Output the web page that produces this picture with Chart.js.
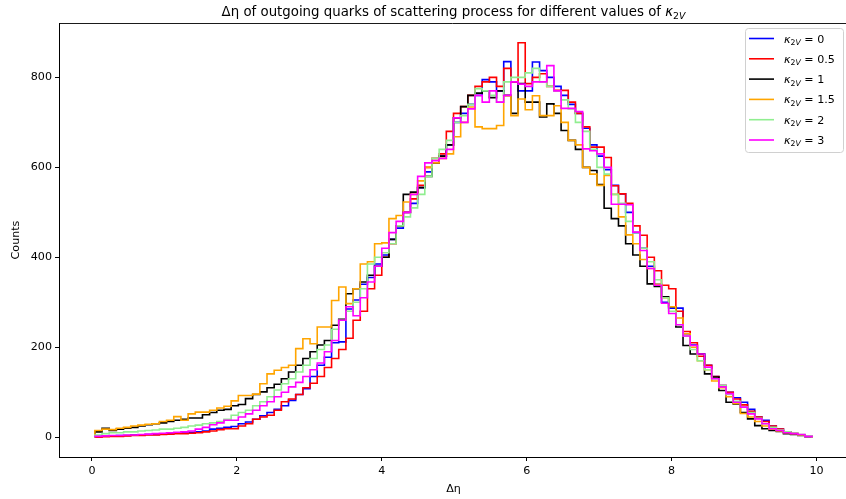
<!DOCTYPE html>
<html>
<head>
<meta charset="utf-8">
<script src="https://cdn.jsdelivr.net/npm/chart.js@4.4.0/dist/chart.umd.min.js"></script>
<style>
  html, body { margin: 0; padding: 0; background: #fff; }
  #wrap { width: 846px; height: 499px; }
</style>
</head>
<body>
<div id="wrap"><canvas id="chart" width="846" height="499"></canvas></div>
<script>
// histogram: 100 bins between the first and last edge
const binStart = 0.04;
const binEnd = 9.94;
const binCount = 100;

const kappaValues = ['0', '0.5', '1', '1.5', '2', '3'];
const seriesColors = ['#0000ff', '#ff0000', '#000000', '#ffa500', '#90ee90', '#ff00ff'];

const xTicks = [0, 2, 4, 6, 8, 10];
const yTicks = [0, 200, 400, 600, 800];

const countsK0 = [
  2,3,3,4,4,5,5,6,6,7,
  8,9,10,11,12,14,18,20,22,24,
  30,34,40,48,55,62,70,82,95,108,
  135,160,178,210,212,285,305,340,355,385,
  405,440,465,500,520,555,590,610,625,650,
  700,720,740,760,795,790,770,835,790,770,
  770,834,815,800,780,760,740,720,687,650,
  625,595,560,541,500,455,420,380,340,300,
  287,287,230,205,185,160,135,115,100,88,
  78,62,45,38,25,18,12,8,5,2
];
const countsK05 = [
  0,1,2,2,3,4,4,5,5,6,
  7,8,8,9,10,12,14,17,19,19,
  25,30,40,45,49,60,79,85,95,110,
  120,135,155,175,195,220,260,280,330,360,
  400,430,470,500,530,560,600,620,630,680,
  720,735,760,780,790,800,780,820,790,877,
  786,800,808,780,771,771,745,720,690,645,
  645,622,559,541,520,470,449,400,370,338,
  330,280,235,210,180,160,135,115,100,85,
  72,58,45,35,25,18,12,8,5,2
];
const countsK1 = [
  12,20,15,18,20,22,25,28,30,32,
  35,38,40,43,43,50,55,60,62,70,
  73,86,95,101,110,118,130,145,160,175,
  190,205,215,249,262,319,330,345,360,380,
  400,440,470,540,545,555,580,610,625,650,
  710,735,760,765,770,755,770,760,720,786,
  745,745,712,741,720,682,660,640,600,593,
  562,509,486,470,430,405,380,341,335,312,
  290,245,204,185,185,141,134,104,78,74,
  55,41,26,19,15,13,8,6,4,2
];
const countsK15 = [
  15,18,17,20,22,25,27,29,30,35,
  38,46,38,52,56,56,60,65,69,81,
  93,93,96,119,141,149,155,160,197,219,
  208,245,245,304,334,297,330,385,390,430,
  432,486,493,523,540,570,600,610,620,630,
  668,700,734,690,686,686,693,759,715,752,
  728,759,715,715,737,700,660,650,600,585,
  560,582,540,490,450,430,395,375,340,310,
  290,265,230,200,170,150,125,110,90,75,
  53,45,35,25,18,14,10,8,5,3
];
const countsK2 = [
  5,8,10,10,12,12,14,15,16,18,
  18,20,22,25,27,30,32,35,40,49,
  55,60,70,79,90,105,119,130,145,160,
  175,195,205,240,260,280,300,330,385,400,
  410,430,470,490,510,540,580,620,640,660,
  700,715,740,775,770,760,745,790,800,800,
  810,820,790,780,770,750,730,700,680,640,
  600,585,540,520,480,455,420,390,350,310,
  280,250,225,195,170,150,130,115,95,80,
  68,55,42,30,22,16,12,9,6,3
];
const countsK3 = [
  2,3,4,4,5,5,6,7,8,9,
  10,11,12,14,18,22,28,32,38,38,
  45,52,60,70,79,90,100,112,122,135,
  150,165,190,215,260,290,270,310,345,380,
  420,455,480,500,540,580,610,615,620,640,
  710,700,730,760,745,770,745,760,790,785,
  780,790,790,826,770,731,731,724,641,637,
  630,600,518,518,517,456,415,375,338,298,
  275,250,225,204,185,156,130,112,97,78,
  67,52,41,30,19,15,10,8,6,2
];

const allCounts = [countsK0, countsK05, countsK1, countsK15, countsK2, countsK3];

const binWidth = (binEnd - binStart) / binCount;
const edges = [];
for (let i = 0; i <= binCount; i++) edges.push(binStart + i * binWidth);

// step outline like histtype='step'
function stepPoints(counts) {
  const pts = [{ x: edges[0], y: 0 }];
  counts.forEach((c, i) => pts.push({ x: edges[i], y: c }));
  pts.push({ x: edges[counts.length], y: 0 });
  return pts;
}

// axes limits with 5% margins, axes run 2px past the right edge of the picture
const xSpan = binEnd - binStart;
const xMin = binStart - 0.05 * xSpan;
const xMaxFull = binEnd + 0.05 * xSpan;
const axLeft = 59, axRightFull = 848, canvasW = 846;
const xMax = xMin + (canvasW - axLeft) / (axRightFull - axLeft) * (xMaxFull - xMin);
const yTop = Math.max(...allCounts.flat());
const yMin = -0.05 * yTop;
const yMax = 1.05 * yTop;

const FONT = 'DejaVu Sans';
const PT = 80 / 72; // point to pixel

function kappaSegments(size, before, after) {
  const sub = size * 0.7;
  return [
    { t: before, font: `${size}px "${FONT}"`, dy: 0 },
    { t: 'κ', font: `italic ${size}px "${FONT}"`, dy: 0 },
    { t: '2', font: `${sub}px "${FONT}"`, dy: size * 0.22 },
    { t: 'V', font: `italic ${sub}px "${FONT}"`, dy: size * 0.22 },
    { t: after, font: `${size}px "${FONT}"`, dy: 0 }
  ];
}

function drawSegments(ctx, segs, x, y, align) {
  let w = 0;
  segs.forEach(s => { ctx.font = s.font; w += ctx.measureText(s.t).width; });
  let cx = align === 'center' ? x - w / 2 : x;
  ctx.textBaseline = 'alphabetic';
  ctx.textAlign = 'left';
  segs.forEach(s => {
    ctx.font = s.font;
    ctx.fillText(s.t, cx, y + s.dy);
    cx += ctx.measureText(s.t).width;
  });
}

const decorPlugin = {
  id: 'decor',
  afterDraw(chart) {
    const ctx = chart.ctx;
    const a = chart.chartArea;
    ctx.save();
    // top spine
    ctx.strokeStyle = '#000';
    ctx.lineWidth = 0.9;
    ctx.beginPath();
    ctx.moveTo(a.left, a.top + 0.5);
    ctx.lineTo(a.right, a.top + 0.5);
    ctx.stroke();

    ctx.fillStyle = '#000';
    const midX = (axLeft + axRightFull) / 2;
    drawSegments(ctx, kappaSegments(12 * PT, 'Δη of outgoing quarks of scattering process for different values of ', ''), midX, 16, 'center');

    // axis labels
    ctx.font = `${10 * PT}px "${FONT}"`;
    ctx.textAlign = 'center';
    ctx.textBaseline = 'middle';
    ctx.fillText('Δη', midX, 489);
    ctx.save();
    ctx.translate(16, (a.top + a.bottom) / 2);
    ctx.rotate(-Math.PI / 2);
    ctx.fillText('Counts', 0, 0);
    ctx.restore();

    // legend
    const bx = 745.5, by = 28.5, bw = 98, bh = 124, r = 3;
    ctx.beginPath();
    ctx.moveTo(bx + r, by);
    ctx.lineTo(bx + bw - r, by);
    ctx.quadraticCurveTo(bx + bw, by, bx + bw, by + r);
    ctx.lineTo(bx + bw, by + bh - r);
    ctx.quadraticCurveTo(bx + bw, by + bh, bx + bw - r, by + bh);
    ctx.lineTo(bx + r, by + bh);
    ctx.quadraticCurveTo(bx, by + bh, bx, by + bh - r);
    ctx.lineTo(bx, by + r);
    ctx.quadraticCurveTo(bx, by, bx + r, by);
    ctx.closePath();
    ctx.fillStyle = 'rgba(255,255,255,0.8)';
    ctx.fill();
    ctx.strokeStyle = '#d0d0d0';
    ctx.lineWidth = 1;
    ctx.stroke();

    kappaValues.forEach((k, i) => {
      const ly = 38.5 + i * 20.3;
      ctx.strokeStyle = seriesColors[i];
      ctx.lineWidth = 1.6;
      ctx.beginPath();
      ctx.moveTo(749, ly);
      ctx.lineTo(774, ly);
      ctx.stroke();
      ctx.fillStyle = '#000';
      drawSegments(ctx, kappaSegments(10 * PT, '', ' = ' + k), 784, ly + 4, 'left');
    });
    ctx.restore();
  }
};

const datasets = allCounts.map((counts, i) => ({
  label: 'κ2V = ' + kappaValues[i],
  data: stepPoints(counts),
  borderColor: seriesColors[i],
  borderWidth: 1.6,
  pointRadius: 0,
  fill: false,
  stepped: true,
  order: allCounts.length - 1 - i
}));

const tickFont = { family: FONT, size: 10 * PT };

new Chart(document.getElementById('chart'), {
  type: 'line',
  data: { datasets },
  options: {
    responsive: false,
    animation: false,
    layout: { padding: { top: 23, right: 0, bottom: 0, left: 0 } },
    plugins: {
      legend: { display: false },
      title: { display: false },
      tooltip: { enabled: false }
    },
    scales: {
      x: {
        type: 'linear',
        min: xMin,
        max: xMax,
        afterBuildTicks: s => { s.ticks = xTicks.map(v => ({ value: v })); },
        afterFit: s => { s.height = 42; },
        grid: { drawOnChartArea: false, tickLength: 4, tickColor: '#000', tickWidth: 1 },
        border: { color: '#000', width: 1 },
        ticks: { color: '#000', font: tickFont, padding: 3, maxRotation: 0 }
      },
      y: {
        type: 'linear',
        min: yMin,
        max: yMax,
        afterBuildTicks: s => { s.ticks = yTicks.map(v => ({ value: v })); },
        afterFit: s => { s.width = axLeft; },
        grid: { drawOnChartArea: false, tickLength: 4, tickColor: '#000', tickWidth: 1 },
        border: { color: '#000', width: 1 },
        ticks: { color: '#000', font: tickFont, padding: 3 }
      }
    }
  },
  plugins: [decorPlugin]
});
</script>
</body>
</html>
